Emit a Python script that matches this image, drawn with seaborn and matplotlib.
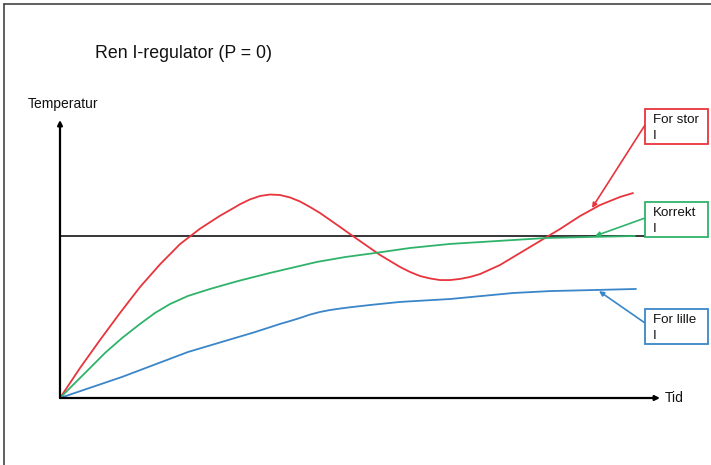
import matplotlib
matplotlib.use("Agg")
import matplotlib.pyplot as plt
import seaborn as sns
import pandas as pd
from matplotlib.lines import Line2D
from matplotlib.patches import Rectangle

# ---- data (time units, temperature with setpoint = 100) ----
red_time = [0, 4, 8, 12, 16, 20, 24, 28, 32, 34, 36, 38, 40, 42, 44, 46, 48, 50, 52,
            54, 56, 58, 60, 62, 64, 66, 68, 70, 72, 74, 76, 78, 80, 82, 84, 88, 92,
            96, 100, 104, 108, 112, 114.6]
red_temp = [0, 18.5, 35.8, 52.5, 68.5, 82.5, 95.0, 104.5, 112.5, 116.0, 119.6, 122.6,
            124.7, 125.6, 125.3, 123.8, 121.3, 117.9, 114.2, 109.9, 105.6, 101.2, 96.9,
            92.6, 88.3, 84.6, 80.9, 77.8, 75.3, 73.8, 72.8, 72.8, 73.5, 74.7, 76.5,
            82.1, 89.5, 96.9, 104.3, 112.3, 119.1, 124.1, 126.5]

green_time = [0, 3, 6, 9, 12.4, 16, 19, 22, 25.6, 30, 35.6, 42, 51.4, 57, 63, 70, 78,
              87.4, 97.4, 106, 115]
green_temp = [0, 9.3, 18.5, 27.8, 37.0, 45.7, 52.5, 58.0, 63.0, 67.3, 72.2, 77.2, 84.0,
              87.0, 89.5, 92.6, 95.1, 96.9, 98.8, 99.4, 100]

blue_time = [0, 12.4, 25.6, 39, 44, 46, 48, 50, 52, 54, 56, 58, 62, 68, 78, 90.6, 98,
             107.4, 115.2]
blue_temp = [0, 13.0, 28.4, 40.7, 45.7, 47.5, 49.4, 51.5, 53.1, 54.3, 55.2, 56.0, 57.4,
             59.3, 61.1, 64.8, 66.0, 66.7, 67.3]

setpoint = 100
setpoint_end = 117

title = "Ren I-regulator (P = 0)"
y_label = "Temperatur"
x_label = "Tid"
labels = ["For stor\nI", "Korrekt\nI", "For lille\nI"]

red_c = "#e8343c"
green_c = "#2fb36a"
blue_c = "#3a86c8"

sns.set_style("white")
plt.rcParams["font.family"] = ["Liberation Sans", "DejaVu Sans"]

fig = plt.figure(figsize=(7.11, 4.65), dpi=100)
ax = fig.add_axes([0, 0, 1, 1])
ax.set_xlim(-12, 130.2)
ax.set_ylim(-41.36, 245.68)
ax.axis("off")

# setpoint line
sns.lineplot(x=[0, setpoint_end], y=[setpoint, setpoint], ax=ax, color="black",
             lw=1.1, sort=False)

for t, T, c in [(red_time, red_temp, red_c), (green_time, green_temp, green_c),
                (blue_time, blue_temp, blue_c)]:
    df = pd.DataFrame({"t": t, "T": T})
    sns.lineplot(data=df, x="t", y="T", ax=ax, color=c, lw=1.3, sort=False)

# axes arrows
ax.annotate("", xy=(0, 171.6), xytext=(0, 0),
            arrowprops=dict(arrowstyle="-|>", color="black", lw=1.6,
                            mutation_scale=7, shrinkA=0, shrinkB=0))
ax.annotate("", xy=(120, 0), xytext=(0, 0),
            arrowprops=dict(arrowstyle="-|>", color="black", lw=1.6,
                            mutation_scale=7, shrinkA=0, shrinkB=0))

ax.text(-6.4, 181.5, y_label, fontsize=10, ha="left", va="center", color="#111")
ax.text(121, 0, x_label, fontsize=10, ha="left", va="center", color="#111")
fig.text(95 / 711, 1 - 53 / 465, title, fontsize=12.8, ha="left", va="center",
         color="#111")

# label boxes + arrows
boxes = [
    (labels[0], red_c, 156.8, (117, 168.5), (106.4, 117.3)),
    (labels[1], green_c, 99.4, (117, 111.1), (107, 100)),
    (labels[2], blue_c, 33.3, (117, 46.3), (107.8, 66.0)),
]
for txt, c, ybot, start, tip in boxes:
    ax.annotate("", xy=tip, xytext=start,
                arrowprops=dict(arrowstyle="-|>", color=c, lw=1.2,
                                mutation_scale=7, shrinkA=0, shrinkB=0))
    ax.add_patch(Rectangle((117, ybot), 12.6, 21.6, fill=True, facecolor="white",
                           edgecolor=c, lw=1.3, zorder=5))
    ax.text(118.6, ybot + 10.0, txt, fontsize=9.6, ha="left", va="center",
            color="#111", linespacing=1.4, zorder=6)

# frame lines (top and left)
fig.add_artist(Line2D([4 / 711, 1], [1 - 4 / 465, 1 - 4 / 465],
                      transform=fig.transFigure, color="#444", lw=1.2))
fig.add_artist(Line2D([4 / 711, 4 / 711], [0, 1 - 4 / 465],
                      transform=fig.transFigure, color="#444", lw=1.2))

fig.savefig("out.png", dpi=100)
